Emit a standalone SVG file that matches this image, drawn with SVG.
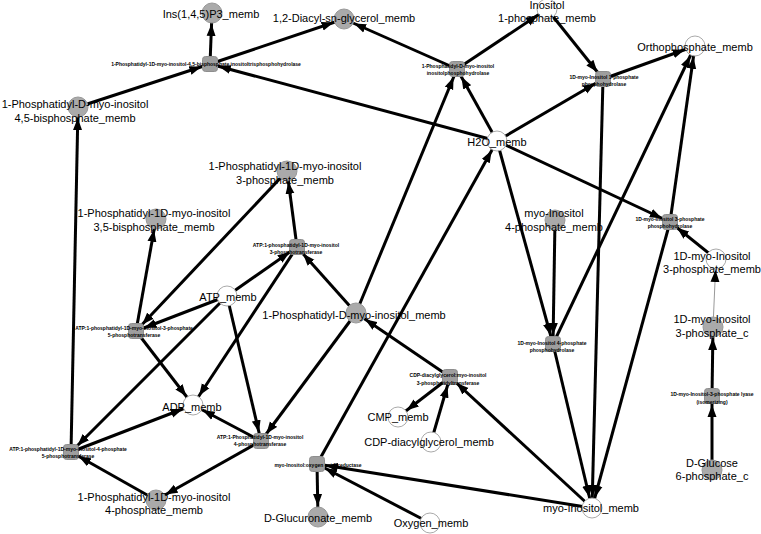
<svg xmlns="http://www.w3.org/2000/svg" width="761" height="534" viewBox="0 0 761 534">
<style>
.e{stroke:#000;stroke-width:3;fill:none;marker-end:url(#ac)}
.r{stroke:#000;stroke-width:3;fill:none;marker-end:url(#ar)}
.thin{stroke:#999;stroke-width:1;fill:none;marker-end:url(#ac)}
.g{fill:#aaaaaa;stroke:#999;stroke-width:1}
.w{fill:#fff;stroke:#aaa;stroke-width:1}
.q{fill:#9e9e9e;stroke:#8e8e8e;stroke-width:1}
text{font-family:"Liberation Sans",Arial,sans-serif;text-anchor:middle;fill:#000}
.t{font-size:11px}
.s{font-size:5px;font-weight:bold}
</style>
<defs>
<marker id="ac" markerUnits="userSpaceOnUse" markerWidth="12" markerHeight="10" refX="23" refY="5" orient="auto"><path d="M0,0.5 L12,5 L0,9.5 z" fill="#000"/></marker>
<marker id="ar" markerUnits="userSpaceOnUse" markerWidth="12" markerHeight="10" refX="21" refY="5" orient="auto"><path d="M0,0.5 L12,5 L0,9.5 z" fill="#000"/></marker>
</defs>
<rect width="761" height="534" fill="#fff"/>
<g id="connectors">
<line x1="78" y1="107" x2="210" y2="64" class="r"/>
<line x1="497" y1="141" x2="210" y2="64" class="r"/>
<line x1="210" y1="64" x2="212" y2="13" class="e"/>
<line x1="210" y1="64" x2="344" y2="19" class="e"/>
<line x1="356" y1="313" x2="457" y2="69" class="r"/>
<line x1="497" y1="141" x2="457" y2="69" class="r"/>
<line x1="457" y1="69" x2="344" y2="19" class="e"/>
<line x1="457" y1="69" x2="547" y2="9" class="e"/>
<line x1="547" y1="9" x2="603" y2="79" class="r"/>
<line x1="497" y1="141" x2="603" y2="79" class="r"/>
<line x1="603" y1="79" x2="695" y2="46" class="e"/>
<line x1="603" y1="79" x2="592" y2="508" class="e"/>
<line x1="716" y1="259" x2="670" y2="222" class="r"/>
<line x1="497" y1="141" x2="670" y2="222" class="r"/>
<line x1="670" y1="222" x2="695" y2="46" class="e"/>
<line x1="670" y1="222" x2="592" y2="508" class="e"/>
<line x1="227" y1="296" x2="297" y2="247" class="r"/>
<line x1="356" y1="313" x2="297" y2="247" class="r"/>
<line x1="297" y1="247" x2="287" y2="171" class="e"/>
<line x1="297" y1="247" x2="193" y2="405" class="e"/>
<line x1="287" y1="171" x2="136" y2="331" class="r"/>
<line x1="227" y1="296" x2="136" y2="331" class="r"/>
<line x1="136" y1="331" x2="156" y2="219" class="e"/>
<line x1="136" y1="331" x2="193" y2="405" class="e"/>
<line x1="555" y1="220" x2="553" y2="344" class="r"/>
<line x1="497" y1="141" x2="553" y2="344" class="r"/>
<line x1="553" y1="344" x2="695" y2="46" class="e"/>
<line x1="553" y1="344" x2="592" y2="508" class="e"/>
<line x1="431" y1="442" x2="450" y2="377" class="r"/>
<line x1="592" y1="508" x2="450" y2="377" class="r"/>
<line x1="450" y1="377" x2="356" y2="313" class="e"/>
<line x1="450" y1="377" x2="398" y2="417" class="e"/>
<line x1="712" y1="470" x2="712" y2="396" class="r"/>
<line x1="712" y1="396" x2="713" y2="327" class="e"/>
<line x1="156" y1="500" x2="71" y2="452" class="r"/>
<line x1="227" y1="296" x2="71" y2="452" class="r"/>
<line x1="71" y1="452" x2="78" y2="107" class="e"/>
<line x1="71" y1="452" x2="193" y2="405" class="e"/>
<line x1="227" y1="296" x2="261" y2="441" class="r"/>
<line x1="356" y1="313" x2="261" y2="441" class="r"/>
<line x1="261" y1="441" x2="193" y2="405" class="e"/>
<line x1="261" y1="441" x2="156" y2="500" class="e"/>
<line x1="592" y1="508" x2="317" y2="464" class="r"/>
<line x1="430" y1="523" x2="317" y2="464" class="r"/>
<line x1="317" y1="464" x2="318" y2="517" class="e"/>
<line x1="317" y1="464" x2="497" y2="141" class="e"/>
<line x1="713" y1="327" x2="716" y2="259" class="thin"/>
</g>
<g id="r1"><rect x="202.5" y="56.5" width="15" height="15" rx="3" class="q"/><text class="s" x="206" y="66">1-Phosphatidyl-1D-myo-inositol-4,5-bisphosphate inositoltrisphosphohydrolase</text></g>
<g id="r2"><rect x="449.5" y="61.5" width="15" height="15" rx="3" class="q"/><text class="s" x="458" y="67.5">1-Phosphatidyl-D-myo-inositol</text><text class="s" x="458" y="74.5">inositolphosphohydrolase</text></g>
<g id="r3"><rect x="595.5" y="71.5" width="15" height="15" rx="3" class="q"/><text class="s" x="604" y="78.5">1D-myo-Inositol 1-phosphate</text><text class="s" x="604" y="85.5">phosphohydrolase</text></g>
<g id="r4"><rect x="662.5" y="214.5" width="15" height="15" rx="3" class="q"/><text class="s" x="670" y="220.5">1D-myo-Inositol 3-phosphate</text><text class="s" x="670" y="227.5">phosphohydrolase</text></g>
<g id="r5"><rect x="289.5" y="239.5" width="15" height="15" rx="3" class="q"/><text class="s" x="296" y="246.5">ATP:1-phosphatidyl-1D-myo-inositol</text><text class="s" x="296" y="253.5">3-phosphotransferase</text></g>
<g id="r6"><rect x="128.5" y="323.5" width="15" height="15" rx="3" class="q"/><text class="s" x="134" y="329.5">ATP:1-phosphatidyl-1D-myo-inositol-3-phosphate</text><text class="s" x="134" y="336.5">5-phosphotransferase</text></g>
<g id="r7"><rect x="545.5" y="336.5" width="15" height="15" rx="3" class="q"/><text class="s" x="552" y="344.5">1D-myo-Inositol 4-phosphate</text><text class="s" x="552" y="351.5">phosphohydrolase</text></g>
<g id="r8"><rect x="442.5" y="369.5" width="15" height="15" rx="3" class="q"/><text class="s" x="448" y="377">CDP-diacylglycerol:myo-inositol</text><text class="s" x="448" y="384.5">3-phosphatidyltransferase</text></g>
<g id="r9"><rect x="704.5" y="388.5" width="15" height="15" rx="3" class="q"/><text class="s" x="712" y="396">1D-myo-Inositol-3-phosphate lyase</text><text class="s" x="712" y="403.5">(isomerizing)</text></g>
<g id="r10"><rect x="63.5" y="444.5" width="15" height="15" rx="3" class="q"/><text class="s" x="68" y="450.5">ATP:1-phosphatidyl-1D-myo-inositol-4-phosphate</text><text class="s" x="68" y="457.5">5-phosphotransferase</text></g>
<g id="r11"><rect x="253.5" y="433.5" width="15" height="15" rx="3" class="q"/><text class="s" x="260" y="438.5">ATP:1-Phosphatidyl-1D-myo-inositol</text><text class="s" x="260" y="445.5">4-phosphotransferase</text></g>
<g id="r12"><rect x="309.5" y="456.5" width="15" height="15" rx="3" class="q"/><text class="s" x="318" y="466.5">myo-Inositol:oxygen oxidoreductase</text></g>
<g id="m_ip3"><circle cx="212" cy="13" r="10" class="g"/><text class="t" x="211" y="18">Ins(1,4,5)P3_memb</text></g>
<g id="m_dag"><circle cx="344" cy="19" r="10" class="g"/><text class="t" x="344" y="22">1,2-Diacyl-sn-glycerol_memb</text></g>
<g id="m_i1p"><circle cx="547" cy="9" r="10" class="w"/><text class="t" x="547" y="9">Inositol</text><text class="t" x="547" y="22">1-phosphate_memb</text></g>
<g id="m_pi"><circle cx="695" cy="46" r="10" class="w"/><text class="t" x="695" y="51">Orthophosphate_memb</text></g>
<g id="m_pip2"><circle cx="78" cy="107" r="10" class="g"/><text class="t" x="75" y="108">1-Phosphatidyl-D-myo-inositol</text><text class="t" x="75" y="122">4,5-bisphosphate_memb</text></g>
<g id="m_h2o"><circle cx="497" cy="141" r="10" class="w"/><text class="t" x="497" y="146">H2O_memb</text></g>
<g id="m_pi3p"><circle cx="287" cy="171" r="10" class="g"/><text class="t" x="285" y="170">1-Phosphatidyl-1D-myo-inositol</text><text class="t" x="285" y="184">3-phosphate_memb</text></g>
<g id="m_pi35p2"><circle cx="156" cy="219" r="10" class="g"/><text class="t" x="154" y="217">1-Phosphatidyl-1D-myo-inositol</text><text class="t" x="154" y="231">3,5-bisphosphate_memb</text></g>
<g id="m_i4p"><circle cx="555" cy="220" r="10" class="g"/><text class="t" x="554" y="217">myo-Inositol</text><text class="t" x="554" y="231">4-phosphate_memb</text></g>
<g id="m_i3pm"><circle cx="716" cy="259" r="10" class="w"/><text class="t" x="712" y="260">1D-myo-Inositol</text><text class="t" x="712" y="273">3-phosphate_memb</text></g>
<g id="m_atp"><circle cx="227" cy="296" r="10" class="w"/><text class="t" x="228" y="301">ATP_memb</text></g>
<g id="m_ptdins"><circle cx="356" cy="313" r="10" class="g"/><text class="t" x="354" y="319">1-Phosphatidyl-D-myo-inositol_memb</text></g>
<g id="m_i3pc"><circle cx="713" cy="327" r="10" class="g"/><text class="t" x="712" y="323">1D-myo-Inositol</text><text class="t" x="712" y="337">3-phosphate_c</text></g>
<g id="m_adp"><circle cx="193" cy="405" r="10" class="w"/><text class="t" x="192" y="411">ADP_memb</text></g>
<g id="m_cmp"><circle cx="398" cy="417" r="10" class="w"/><text class="t" x="398" y="421">CMP_memb</text></g>
<g id="m_cdpdag"><circle cx="431" cy="442" r="10" class="w"/><text class="t" x="429" y="446">CDP-diacylglycerol_memb</text></g>
<g id="m_g6p"><circle cx="712" cy="470" r="10" class="g"/><text class="t" x="712" y="467">D-Glucose</text><text class="t" x="712" y="480">6-phosphate_c</text></g>
<g id="m_pi4p"><circle cx="156" cy="500" r="10" class="g"/><text class="t" x="154" y="501">1-Phosphatidyl-1D-myo-inositol</text><text class="t" x="154" y="514">4-phosphate_memb</text></g>
<g id="m_glca"><circle cx="318" cy="517" r="10" class="g"/><text class="t" x="318" y="522">D-Glucuronate_memb</text></g>
<g id="m_o2"><circle cx="430" cy="523" r="10" class="w"/><text class="t" x="431" y="527">Oxygen_memb</text></g>
<g id="m_ino"><circle cx="592" cy="508" r="10" class="w"/><text class="t" x="591" y="512">myo-Inositol_memb</text></g>
</svg>
